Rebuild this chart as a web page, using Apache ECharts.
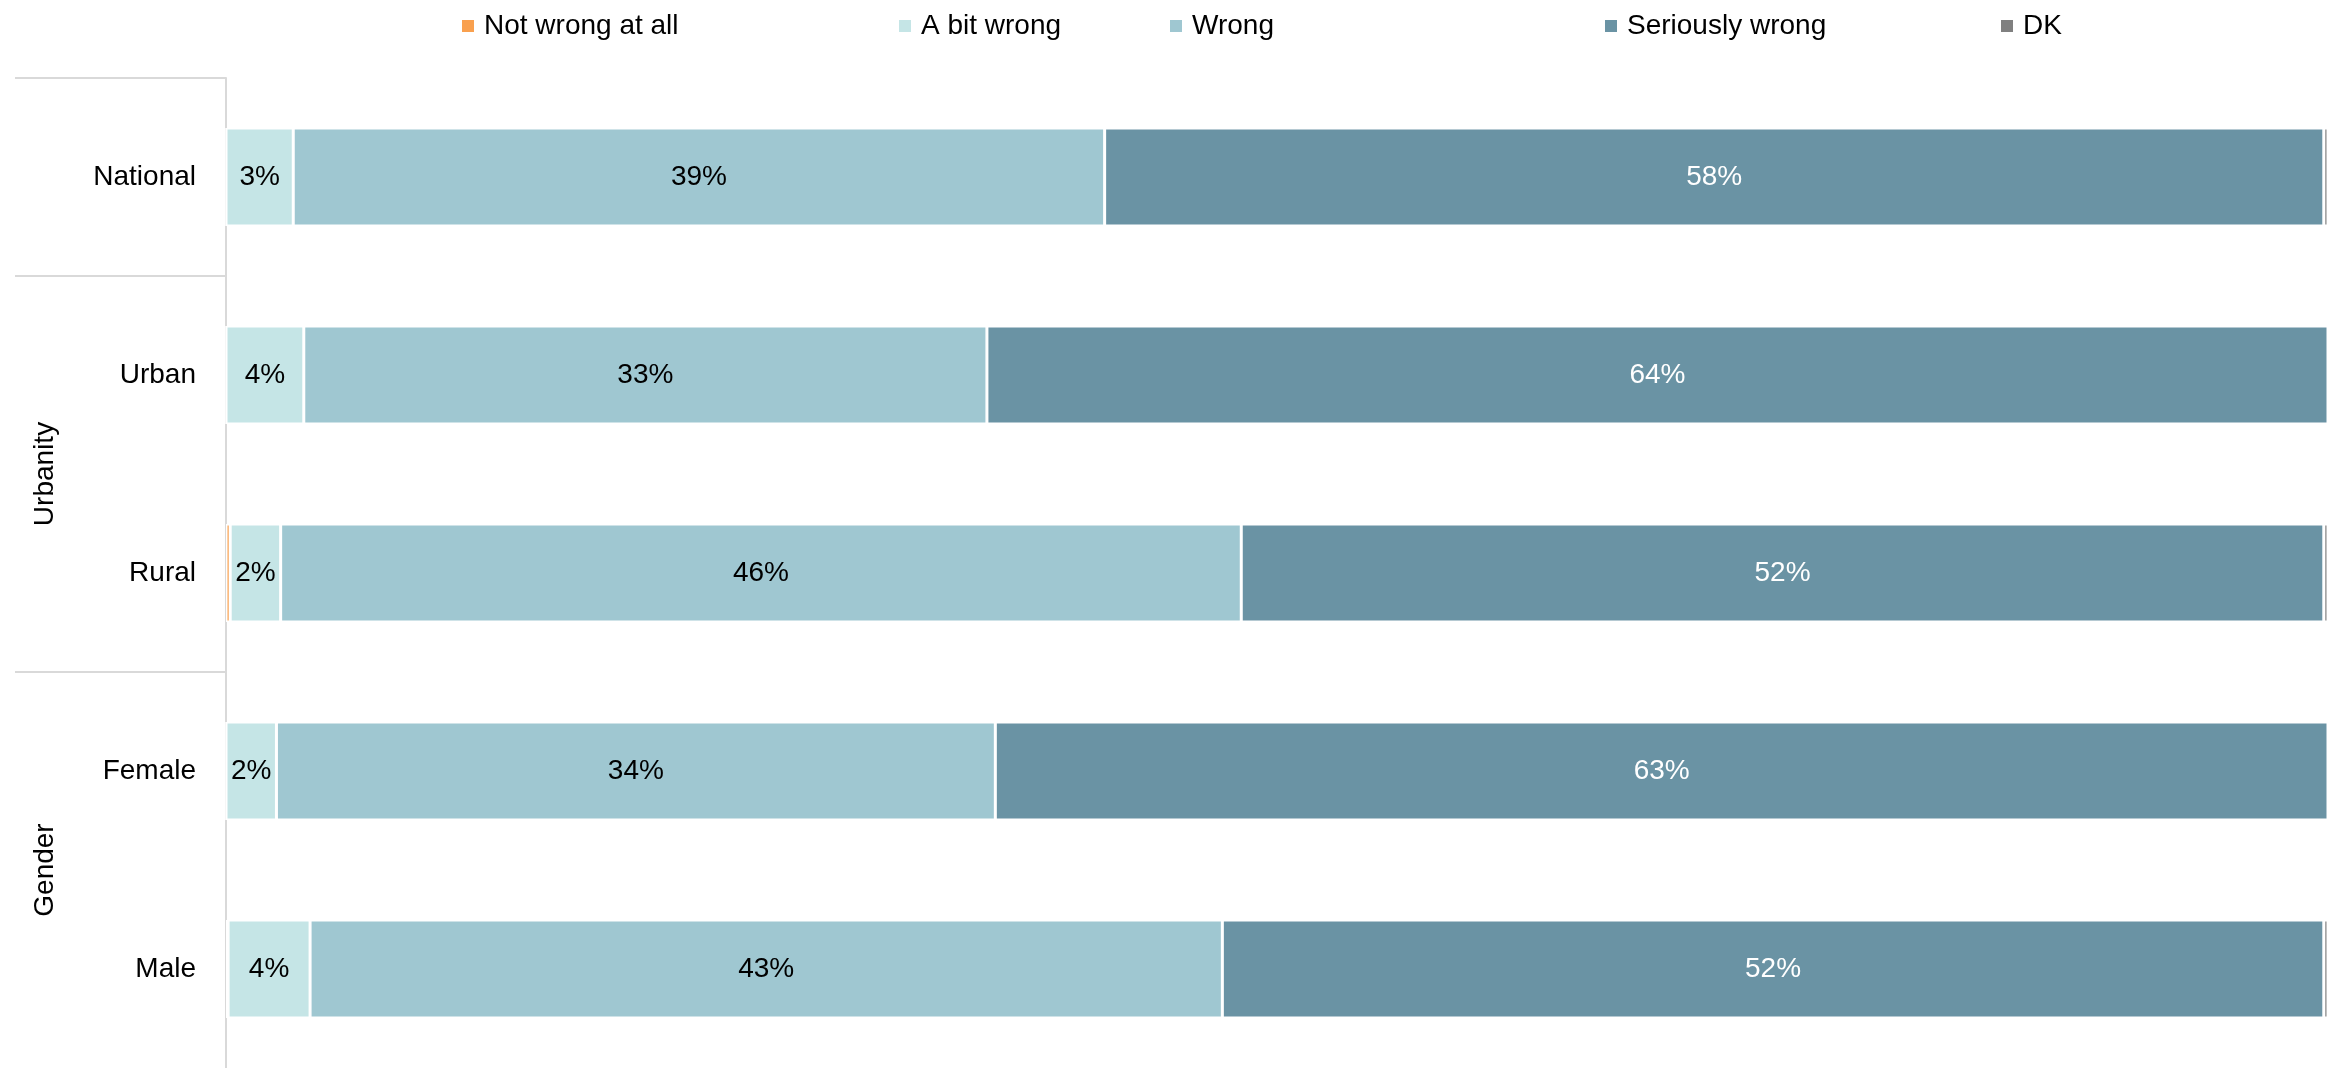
<!DOCTYPE html>
<html>
<head>
    <meta charset="utf-8">
    <style>
        html, body { margin: 0; padding: 0; background: #fff; }
    </style>
</head>
<body>

<div id="main" style="width: 2339px;height:1068px;"></div>
<script src="https://cdn.jsdelivr.net/npm/echarts@6/dist/echarts.min.js"></script>
<script type="text/javascript">
    // rows, top to bottom
    var categories = ['National', 'Urban', 'Rural', 'Female', 'Male'];
    var seriesNames = ['Not wrong at all', 'A bit wrong', 'Wrong', 'Seriously wrong', 'DK'];

    // shares in %
    var notWrong = [0, 0, 0.2, 0, 0.1];
    var bitWrong = [3.2, 3.7, 2.4, 2.4, 3.9];
    var wrong = [38.6, 32.5, 45.7, 34.2, 43.4];
    var seriousWrong = [58.0, 63.8, 51.5, 63.4, 52.4];
    var dontKnow = [0.2, 0, 0.2, 0, 0.2];

    // groups drawn on the left: label + first/last row index
    var groups = [
        { name: '', from: 0, to: 0 },
        { name: 'Urbanity', from: 1, to: 2 },
        { name: 'Gender', from: 3, to: 4 }
    ];

    var colors = ['#F9A04E', '#C5E5E6', '#9FC7D1', '#6A93A4', '#808080'];
    var labelColors = ['#000', '#000', '#000', '#fff', '#000'];
    var legendLeft = [455, 892, 1163, 1598, 1994];
    var font = 'Liberation Sans, Arial, sans-serif';
    var fontSize = 28;

    var gridTop = 78, gridLeft = 226, gridRight = 11, gridBottom = 0;
    var chartH = 1068;
    var band = (chartH - gridTop - gridBottom) / categories.length;

    var values = [notWrong, bitWrong, wrong, seriousWrong, dontKnow];

    var series = seriesNames.map(function (name, i) {
        return {
            name: name,
            type: 'bar',
            stack: 'total',
            barWidth: 98,
            data: values[i],
            itemStyle: {
                color: colors[i],
                borderColor: '#fff',
                borderWidth: 1.5
            },
            label: {
                show: i >= 1 && i <= 3,
                position: 'inside',
                color: labelColors[i],
                fontFamily: font,
                fontSize: fontSize,
                formatter: function (p) {
                    return Math.round(p.value) + '%';
                }
            }
        };
    });

    var legends = seriesNames.map(function (name, i) {
        return {
            data: [name],
            left: legendLeft[i],
            top: 7,
            icon: 'rect',
            itemWidth: 14,
            itemHeight: 14,
            selectedMode: false,
            textStyle: {
                color: '#000',
                fontFamily: font,
                fontSize: fontSize,
                padding: [0, 0, 0, 4]
            }
        };
    });

    // separators and group titles at the left
    var graphics = [];
    groups.forEach(function (g) {
        var y0 = gridTop + g.from * band;
        var y1 = gridTop + (g.to + 1) * band;
        graphics.push({
            type: 'line',
            shape: { x1: 15, y1: y0, x2: gridLeft, y2: y0 },
            style: { stroke: '#d9d9d9', lineWidth: 2 }
        });
        if (g.name) {
            graphics.push({
                type: 'text',
                x: 45,
                y: (y0 + y1) / 2,
                rotation: Math.PI / 2,
                style: {
                    text: g.name,
                    fill: '#000',
                    font: fontSize + 'px ' + font,
                    align: 'center',
                    verticalAlign: 'middle'
                }
            });
        }
    });

    var option = {
        animation: false,
        legend: legends,
        grid: {
            left: gridLeft,
            right: gridRight,
            top: gridTop,
            bottom: gridBottom,
            containLabel: false
        },
        xAxis: {
            type: 'value',
            min: 0,
            max: 100,
            show: false
        },
        yAxis: {
            type: 'category',
            inverse: true,
            data: categories,
            axisLine: { show: true, lineStyle: { color: '#d9d9d9', width: 2 } },
            axisTick: { show: false },
            axisLabel: {
                color: '#000',
                fontFamily: font,
                fontSize: fontSize,
                margin: 30
            }
        },
        graphic: graphics,
        series: series
    };

    var myChart = echarts.init(document.getElementById('main'));
    myChart.setOption(option);
</script>
</body>
</html>
